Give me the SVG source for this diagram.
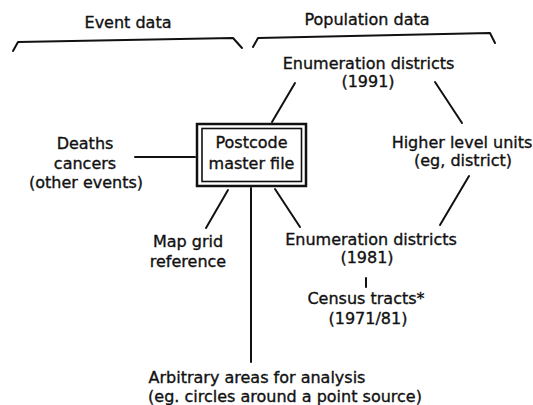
<svg xmlns="http://www.w3.org/2000/svg" width="533" height="405" viewBox="0 0 533 405">
<style>
text{font-family:"DejaVu Sans","Liberation Sans",sans-serif;font-size:16px;fill:#111;stroke:#111;stroke-width:0.35;text-anchor:middle}
.ln{stroke:#111;stroke-width:2;fill:none;stroke-linecap:round;stroke-linejoin:round}
</style>
<rect width="533" height="405" fill="#fff"/>
<g id="brackets">
<path class="ln" d="M13,51 L18,42 L233,38 L242,48"/>
<path class="ln" d="M253,47 L258,38 L490,33 L495,43"/>
<text x="128" y="28">Event data</text>
<text x="367" y="25">Population data</text>
</g>
<g id="connectors">
<line class="ln" x1="135" y1="157" x2="195" y2="157"/>
<line class="ln" x1="272" y1="122" x2="295" y2="83"/>
<line class="ln" x1="435" y1="82" x2="462" y2="123"/>
<line class="ln" x1="469" y1="176" x2="440" y2="225"/>
<line class="ln" x1="275" y1="189" x2="300" y2="227"/>
<line class="ln" x1="228" y1="190" x2="206" y2="228"/>
<line class="ln" x1="251" y1="188" x2="251" y2="362"/>
<line class="ln" x1="366" y1="278" x2="366" y2="287"/>
</g>
<g id="postcode">
<rect x="197" y="124" width="109" height="62" fill="#fff" stroke="#111" stroke-width="2.5"/>
<rect x="202" y="128.5" width="99.5" height="53" fill="none" stroke="#111" stroke-width="1.6"/>
<text x="251.5" y="148">Postcode</text>
<text x="251.5" y="169">master file</text>
</g>
<g id="deaths">
<text x="85" y="149">Deaths</text>
<text x="85" y="169">cancers</text>
<text x="86" y="188">(other events)</text>
</g>
<g id="ed1991">
<text x="368.5" y="69">Enumeration districts</text>
<text x="368" y="87">(1991)</text>
</g>
<g id="higher">
<text x="462" y="148">Higher level units</text>
<text x="463" y="166">(eg, district)</text>
</g>
<g id="ed1981">
<text x="371" y="245">Enumeration districts</text>
<text x="367" y="263">(1981)</text>
</g>
<g id="census">
<text x="366" y="304">Census tracts*</text>
<text x="368" y="324">(1971/81)</text>
</g>
<g id="mapgrid">
<text x="188" y="247">Map grid</text>
<text x="188" y="267">reference</text>
</g>
<g id="arbitrary">
<text x="257" y="383">Arbitrary areas for analysis</text>
<text x="285" y="402">(eg. circles around a point source)</text>
</g>
</svg>
